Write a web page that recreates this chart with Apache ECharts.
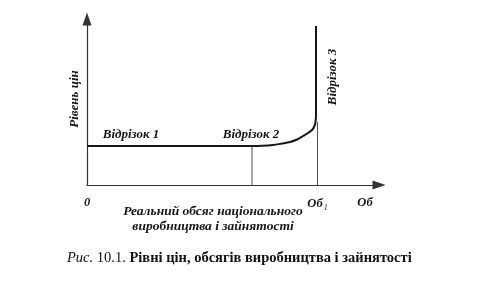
<!DOCTYPE html>
<html>
<head>
<meta charset="utf-8">
<script src="https://cdn.jsdelivr.net/npm/echarts@6/dist/echarts.min.js"></script>
<style>
html,body{margin:0;padding:0;background:#fff;}
#chart{width:483px;height:283px;}
</style>
</head>
<body>
<div id="chart"></div>
<script>
// Conceptual diagram data (arbitrary units)
const curveX = [0, 165, 175, 186, 195, 203, 210, 216, 221, 225, 227.5, 228.5, 229, 229];
const curveY = [39, 39, 39.2, 40, 41.5, 43, 45.5, 49, 52, 55, 59, 63, 70, 159];
const guide1 = [[165, 0], [165, 39]];
const guide2 = [[230.5, 0], [230.5, 63]];
const xTickValues = [0, 230.5, 278];
const xTickLabels = ['0', 'Об1', 'Об'];
const segmentLabels = ['Відрізок 1', 'Відрізок 2', 'Відрізок 3'];
const segmentPos = [[44, 50], [164, 50], [246, 108]];
const segmentRotate = [0, 0, 90];
const yAxisTitle = 'Рівень цін';
const xAxisTitle = ['Реальний обсяг національного', 'виробництва і зайнятості'];
const captionParts = ['Рис.', ' 10.1. ', 'Рівні цін, обсягів виробництва і зайнятості'];

const ink = '#151515';
const serif = '"Liberation Serif", "DejaVu Serif", serif';

const chart = echarts.init(document.getElementById('chart'));
chart.setOption({
  backgroundColor: '#fff',
  animation: false,
  grid: { left: 87, right: 104, top: 19, bottom: 98 },
  xAxis: {
    type: 'value', min: 0, max: 292,
    splitLine: { show: false },
    axisTick: { show: false },
    axisLine: { lineStyle: { color: '#333', width: 1.2 }, symbol: ['none', 'triangle'], symbolSize: [9, 13] },
    axisLabel: {
      customValues: xTickValues,
      margin: 11,
      formatter: function (v) {
        const i = xTickValues.indexOf(v);
        const t = i >= 0 ? xTickLabels[i] : '';
        if (t === 'Об1') return '{m|Об}{s|1}';
        return '{m|' + t + '}';
      },
      rich: {
        m: { fontFamily: serif, fontStyle: 'italic', fontWeight: 'bold', fontSize: 12.5, color: ink },
        s: { fontFamily: serif, fontStyle: 'italic', fontSize: 8, color: ink, padding: [8, 0, 0, 1] }
      }
    }
  },
  yAxis: {
    type: 'value', min: 0, max: 166,
    splitLine: { show: false },
    axisTick: { show: false },
    axisLabel: { show: false },
    axisLine: { lineStyle: { color: '#333', width: 1.2 }, symbol: ['none', 'triangle'], symbolSize: [9, 13] },
    name: yAxisTitle,
    nameLocation: 'middle',
    nameRotate: 90,
    nameGap: 6,
    nameTextStyle: { fontFamily: serif, fontStyle: 'italic', fontWeight: 'bold', fontSize: 13, color: ink, padding: [0, 0, 0, 6] }
  },
  series: [
    {
      type: 'line', data: curveX.map((x, i) => [x, curveY[i]]),
      showSymbol: false, symbol: 'none', smooth: 0.3,
      lineStyle: { color: ink, width: 2 }
    },
    {
      type: 'line', data: guide1, symbol: 'none',
      lineStyle: { color: '#3a3a3a', width: 0.9 }
    },
    {
      type: 'line', data: guide2, symbol: 'none',
      lineStyle: { color: '#3a3a3a', width: 0.9 }
    },
    {
      type: 'scatter', symbolSize: 0, itemStyle: { color: ink, opacity: 1 },
      clip: false,
      data: segmentLabels.map((n, i) => ({
        value: segmentPos[i], name: n,
        label: { rotate: segmentRotate[i] }
      })),
      label: {
        show: true, position: 'inside', formatter: '{b}',
        fontFamily: serif, fontStyle: 'italic', fontWeight: 'bold', fontSize: 13,
        color: ink, textBorderWidth: 0
      }
    }
  ],
  graphic: [
    {
      type: 'text', x: 213, y: 212,
      style: { text: xAxisTitle[0], font: 'italic bold 13.5px ' + serif, fill: ink, textAlign: 'center', textVerticalAlign: 'middle' }
    },
    {
      type: 'text', x: 213, y: 227,
      style: { text: xAxisTitle[1], font: 'italic bold 13.5px ' + serif, fill: ink, textAlign: 'center', textVerticalAlign: 'middle' }
    },
    {
      type: 'text', x: 67, y: 258,
      style: {
        text: '{a|' + captionParts[0] + '}{b|' + captionParts[1] + '}{c|' + captionParts[2] + '}',
        textVerticalAlign: 'middle',
        rich: {
          a: { fontFamily: serif, fontStyle: 'italic', fontSize: 14.5, fill: '#111' },
          b: { fontFamily: serif, fontSize: 14.5, fill: '#111' },
          c: { fontFamily: serif, fontWeight: 'bold', fontSize: 14.5, fill: '#111' }
        }
      }
    }
  ]
});
</script>
</body>
</html>
